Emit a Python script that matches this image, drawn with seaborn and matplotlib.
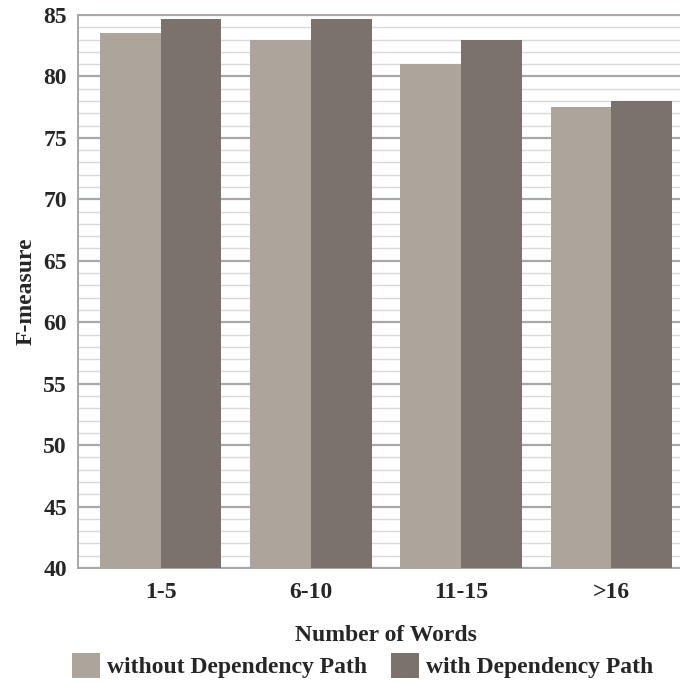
import matplotlib
matplotlib.use("Agg")
import matplotlib.pyplot as plt
from matplotlib.ticker import MultipleLocator
import pandas as pd
import seaborn as sns

categories = ["1-5", "6-10", "11-15", ">16"]
without_dep = [83.5, 83.0, 81.0, 77.5]
with_dep = [84.7, 84.7, 83.0, 78.0]
series_names = ["without Dependency Path", "with Dependency Path"]
y_ticks = [40, 45, 50, 55, 60, 65, 70, 75, 80, 85]

df = pd.DataFrame({
    "words": categories * 2,
    "F-measure": without_dep + with_dep,
    "series": [series_names[0]] * 4 + [series_names[1]] * 4,
})

sns.set_style("white")
plt.rcParams["font.family"] = ["Liberation Serif", "DejaVu Serif"]
plt.rcParams["font.weight"] = "bold"

fig = plt.figure(figsize=(6.8, 6.82), dpi=100)
ax = fig.add_axes([78 / 680, 114 / 682, 616 / 680, 553 / 682])

sns.barplot(data=df, x="words", y="F-measure", hue="series", order=categories,
            hue_order=series_names, palette=["#ada49c", "#7b726d"], width=0.81,
            saturation=1, edgecolor="none", linewidth=0, ax=ax, zorder=3)

ax.set_ylim(40, 85)
ax.set_xlim(-0.55, 3.55)
ax.set_yticks(y_ticks)
ax.yaxis.set_minor_locator(MultipleLocator(1))
ax.grid(which="minor", axis="y", color="#dadada", lw=1.0, zorder=0)
ax.grid(which="major", axis="y", color="#a9a6a4", lw=1.6, zorder=1)
ax.set_axisbelow(True)

for side in ["left", "bottom", "top"]:
    ax.spines[side].set_color("#a9a6a4")
    ax.spines[side].set_linewidth(1.4)
ax.spines["right"].set_visible(False)

ax.tick_params(axis="y", which="both", length=0, pad=8, labelsize=17)
ax.tick_params(axis="x", length=0, pad=10, labelsize=17)
ax.set_xlabel("Number of Words", fontsize=17, fontweight="bold", labelpad=16)
ax.set_ylabel("F-measure", fontsize=17, fontweight="bold", labelpad=5)

handles, labels = ax.get_legend_handles_labels()
ax.legend_.remove()
fig.legend(handles, labels, loc="lower center", bbox_to_anchor=(0.533, -0.026),
           ncol=2, frameon=False, fontsize=17, handlelength=1.2, handleheight=1.3,
           handletextpad=0.3, columnspacing=1.0)

fig.savefig("out.png", dpi=100)
